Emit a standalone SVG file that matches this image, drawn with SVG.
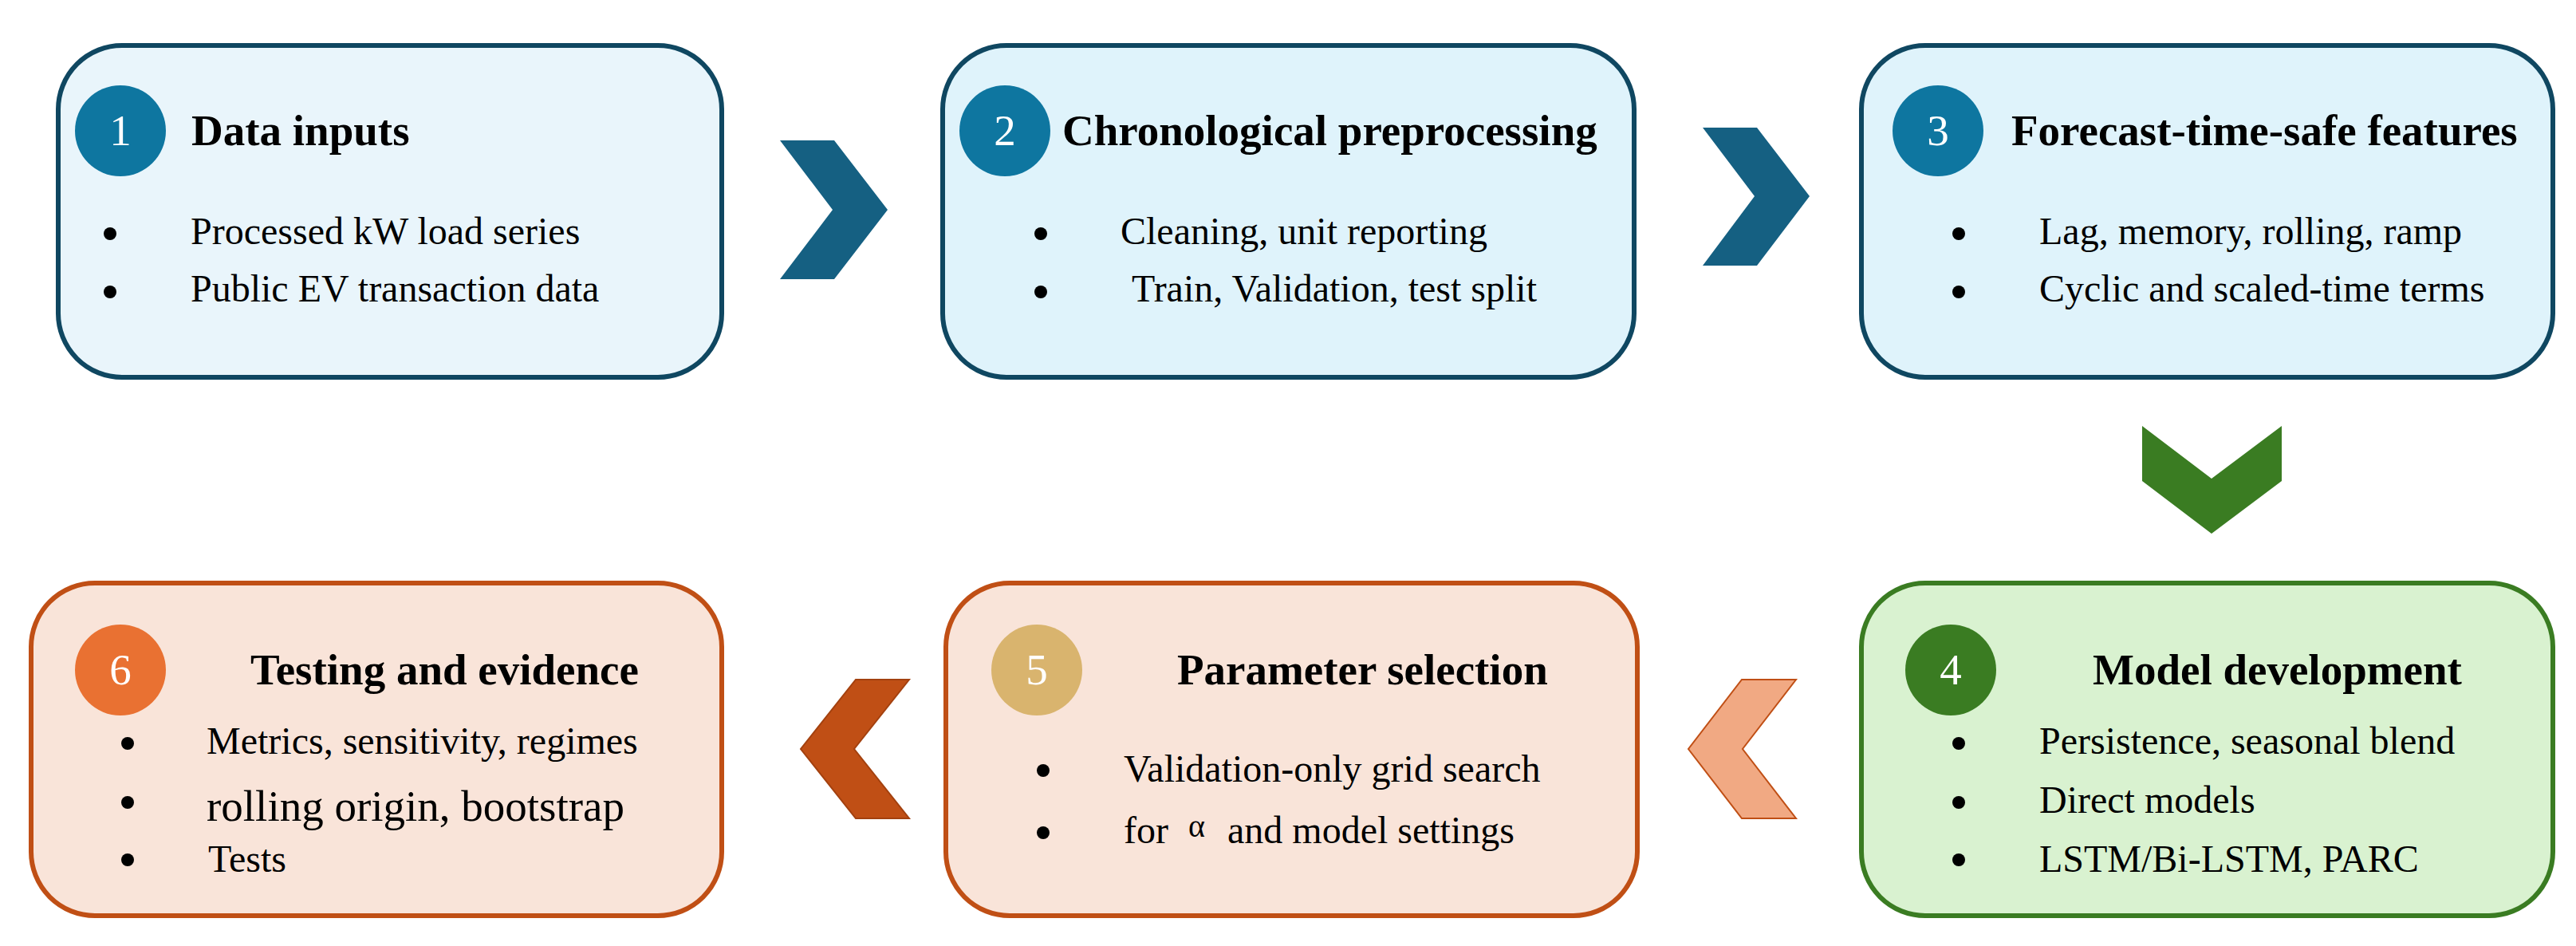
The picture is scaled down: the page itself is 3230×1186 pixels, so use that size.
<svg xmlns="http://www.w3.org/2000/svg" width="3230" height="1186" viewBox="0 0 3230 1186">
<style>
  .t { font-family: "Liberation Serif", "Times New Roman", serif; fill: #000; }
  .title { font-size: 55px; font-weight: bold; }
  .item { font-size: 48px; }
  .num { font-family: "Liberation Serif", "Times New Roman", serif; font-size: 55px; fill: #fff; text-anchor: middle; }
  .blueBox { stroke: #0F4761; stroke-width: 6; }
  .orangeBox { fill: #F9E4D9; stroke: #C04F15; stroke-width: 6; }
  .greenBox { fill: #D9F2D0; stroke: #3A7C22; stroke-width: 6; }
  .dot { fill: #000; }
</style>
<rect width="3230" height="1186" fill="#fff"/>

<g id="connectors">
  <polygon points="978,176 1046,176 1113,263 1046,350 978,350 1044,263" fill="#156082"/>
  <polygon points="2135,160 2203,160 2269,246 2203,333 2135,333 2200,246" fill="#156082"/>
  <polygon points="2686,534 2773,600 2861,534 2861,603 2773,669 2686,603" fill="#3A7C22"/>
  <polygon points="2252,852 2184,852 2117,939 2184,1026 2252,1026 2185,939" fill="#F1A983" stroke="#C04F15" stroke-width="2"/>
  <polygon points="1140,852 1073,852 1004,939 1073,1026 1140,1026 1071,939" fill="#C04F15" stroke="#A3410F" stroke-width="2"/>
</g>

<g id="node1">
  <rect class="blueBox" x="73" y="57" width="832" height="416" rx="80" ry="80" fill="#E9F5FB"/>
  <circle cx="151" cy="164" r="57" fill="#0E76A0"/>
  <text class="num" x="151" y="182">1</text>
  <text class="t title" x="240" y="182">Data inputs</text>
  <circle class="dot" cx="138" cy="293" r="8"/>
  <circle class="dot" cx="138" cy="366" r="8"/>
  <text class="t item" x="239" y="306">Processed kW load series</text>
  <text class="t item" x="239" y="378">Public EV transaction data</text>
</g>

<g id="node2">
  <rect class="blueBox" x="1182" y="57" width="867" height="416" rx="80" ry="80" fill="#DFF3FB"/>
  <circle cx="1260" cy="164" r="57" fill="#0E76A0"/>
  <text class="num" x="1260" y="182">2</text>
  <text class="t title" x="1332" y="182">Chronological preprocessing</text>
  <circle class="dot" cx="1305" cy="293" r="8"/>
  <circle class="dot" cx="1305" cy="366" r="8"/>
  <text class="t item" x="1405" y="306">Cleaning, unit reporting</text>
  <text class="t item" x="1419" y="378">Train, Validation, test split</text>
</g>

<g id="node3">
  <rect class="blueBox" x="2334" y="57" width="867" height="416" rx="80" ry="80" fill="#DFF3FB"/>
  <circle cx="2430" cy="164" r="57" fill="#0E76A0"/>
  <text class="num" x="2430" y="182">3</text>
  <text class="t title" x="2522" y="182">Forecast-time-safe features</text>
  <circle class="dot" cx="2456" cy="293" r="8"/>
  <circle class="dot" cx="2456" cy="366" r="8"/>
  <text class="t item" x="2557" y="306">Lag, memory, rolling, ramp</text>
  <text class="t item" x="2557" y="378">Cyclic and scaled-time terms</text>
</g>

<g id="node4">
  <rect class="greenBox" x="2334" y="731" width="867" height="417" rx="80" ry="80"/>
  <circle cx="2446" cy="840" r="57" fill="#3A7C22"/>
  <text class="num" x="2446" y="858">4</text>
  <text class="t title" x="2624" y="858">Model development</text>
  <circle class="dot" cx="2456" cy="932" r="8"/>
  <circle class="dot" cx="2456" cy="1006" r="8"/>
  <circle class="dot" cx="2456" cy="1078" r="8"/>
  <text class="t item" x="2557" y="945">Persistence, seasonal blend</text>
  <text class="t item" x="2557" y="1019">Direct models</text>
  <text class="t item" x="2557" y="1093">LSTM/Bi-LSTM, PARC</text>
</g>

<g id="node5">
  <rect class="orangeBox" x="1186" y="731" width="867" height="417" rx="80" ry="80"/>
  <circle cx="1300" cy="840" r="57" fill="#D9B46E"/>
  <text class="num" x="1300" y="858">5</text>
  <text class="t title" x="1476" y="858">Parameter selection</text>
  <circle class="dot" cx="1308" cy="966" r="8"/>
  <circle class="dot" cx="1308" cy="1044" r="8"/>
  <text class="t item" x="1409" y="980">Validation-only grid search</text>
  <text class="t item" x="1409" y="1057">for</text>
  <text class="t" x="1490" y="1049" font-size="40px">α</text>
  <text class="t item" x="1539" y="1057">and model settings</text>
</g>

<g id="node6">
  <rect class="orangeBox" x="39" y="731" width="866" height="417" rx="80" ry="80"/>
  <circle cx="151" cy="840" r="57" fill="#E97132"/>
  <text class="num" x="151" y="858">6</text>
  <text class="t title" x="314" y="858">Testing and evidence</text>
  <circle class="dot" cx="160" cy="932" r="8"/>
  <circle class="dot" cx="160" cy="1006" r="8"/>
  <circle class="dot" cx="160" cy="1078" r="8"/>
  <text class="t item" x="259" y="945">Metrics, sensitivity, regimes</text>
  <text class="t" x="259" y="1029" font-size="55px">rolling origin, bootstrap</text>
  <text class="t item" x="261" y="1093">Tests</text>
</g>
</svg>
